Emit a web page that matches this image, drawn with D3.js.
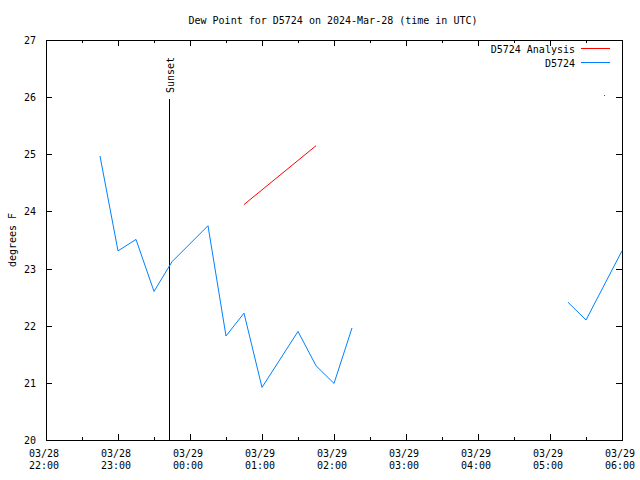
<!DOCTYPE html>
<html>
<head>
<meta charset="utf-8">
<script src="https://cdn.jsdelivr.net/npm/d3@7"></script>
<style>
  html, body { margin: 0; padding: 0; background: #fff; }
  svg { display: block; }
  text { font-family: "DejaVu Sans Mono", "Liberation Mono", monospace; font-size: 10px; fill: #000; }
</style>
</head>
<body>
<svg id="chart" width="640" height="480"></svg>
<script>
// ---- data ----
const titleText = "Dew Point for D5724 on 2024-Mar-28 (time in UTC)";
const yLabel = "degrees F";
const seriesNames = ["D5724 Analysis", "D5724"];
const seriesColors = ["#ff0000", "#0080ff"];

const obsTimes = [
  "2024-03-28T22:45Z", "2024-03-28T23:00Z", "2024-03-28T23:15Z", "2024-03-28T23:30Z",
  "2024-03-28T23:45Z", "2024-03-29T00:15Z", "2024-03-29T00:30Z", "2024-03-29T00:45Z",
  "2024-03-29T01:00Z", "2024-03-29T01:30Z", "2024-03-29T01:45Z", "2024-03-29T02:00Z",
  "2024-03-29T02:15Z", "2024-03-29T02:30Z", "2024-03-29T05:15Z", "2024-03-29T05:30Z",
  "2024-03-29T06:00Z"
];
const obsValues = [
  24.97, 23.31, 23.51, 22.60,
  23.12, 23.75, 21.82, 22.22,
  20.92, 21.90, 21.30, 20.99,
  21.96, null, 22.41, 22.10,
  23.31
];

const anaTimes = ["2024-03-29T00:45Z", "2024-03-29T01:45Z", "2024-03-29T02:00Z", "2024-03-29T05:45Z"];
const anaValues = [24.12, 25.15, null, 26.04];

const sunsetTime = "2024-03-28T23:42:30Z";
const sunsetLabel = "Sunset";

const xDomain = ["2024-03-28T22:00Z", "2024-03-29T06:00Z"];
const yDomain = [20, 27];
const yTicks = [20, 21, 22, 23, 24, 25, 26, 27];

// ---- layout ----
const L = 46, R = 622, T = 40, B = 440;
const svg = d3.select("#chart");

const x = d3.scaleUtc().domain(xDomain.map(d => new Date(d))).range([L, R]);
const y = d3.scaleLinear().domain(yDomain).range([B, T]);

const majorTicks = d3.utcHour.every(1).range(new Date(xDomain[0]), d3.utcMinute.offset(new Date(xDomain[1]), 1));
const minorTicks = d3.utcMinute.every(30).range(new Date(xDomain[0]), new Date(xDomain[1])).filter(d => d.getUTCMinutes() === 30);

// title
svg.append("text").attr("x", 333).attr("y", 24).attr("text-anchor", "middle").text(titleText);

// y label
svg.append("text").attr("transform", "translate(13,240) rotate(-90)")
  .attr("text-anchor", "middle").attr("dominant-baseline", "middle").text(yLabel);

// axes (ticks inward)
function styleAxis(g) {
  g.select(".domain").remove();
  g.selectAll("line").attr("stroke", "#000").attr("shape-rendering", "crispEdges");
  g.selectAll("text").remove();
}
svg.append("g").attr("transform", `translate(0,${B})`)
  .call(d3.axisBottom(x).tickValues(majorTicks).tickSize(-6)).call(styleAxis);
svg.append("g").attr("transform", `translate(0,${B})`)
  .call(d3.axisBottom(x).tickValues(minorTicks).tickSize(-3)).call(styleAxis);
svg.append("g").attr("transform", `translate(0,${T})`)
  .call(d3.axisTop(x).tickValues(majorTicks).tickSize(-6)).call(styleAxis);
svg.append("g").attr("transform", `translate(0,${T})`)
  .call(d3.axisTop(x).tickValues(minorTicks).tickSize(-3)).call(styleAxis);
svg.append("g").attr("transform", `translate(${L},0)`)
  .call(d3.axisLeft(y).tickValues(yTicks).tickSize(-6)).call(styleAxis);
svg.append("g").attr("transform", `translate(${R},0)`)
  .call(d3.axisRight(y).tickValues(yTicks).tickSize(-6)).call(styleAxis);

// y tick labels
svg.append("g").selectAll("text").data(yTicks).join("text")
  .attr("x", 36).attr("y", d => y(d) + 4).attr("text-anchor", "end").text(d => d);

// x tick labels (two lines)
const fmtDate = d3.utcFormat("%m/%d"), fmtTime = d3.utcFormat("%H:%M");
const xl = svg.append("g").selectAll("g").data(majorTicks).join("g")
  .attr("transform", d => `translate(${x(d) - 2},0)`);
xl.append("text").attr("y", 457).attr("text-anchor", "middle").text(d => fmtDate(d));
xl.append("text").attr("y", 469).attr("text-anchor", "middle").text(d => fmtTime(d));

// frame
svg.append("rect").attr("x", L + 0.5).attr("y", T + 0.5)
  .attr("width", R - L).attr("height", B - T)
  .attr("fill", "none").attr("stroke", "#000").attr("shape-rendering", "crispEdges");

// sunset marker
const sx = Math.round(x(new Date(sunsetTime))) + 0.5;
svg.append("line").attr("x1", sx).attr("x2", sx).attr("y1", y(20)).attr("y2", y(25.97))
  .attr("stroke", "#000").attr("shape-rendering", "crispEdges");
svg.append("text").attr("transform", `translate(${sx + 1},93) rotate(-90)`)
  .attr("text-anchor", "start").attr("dominant-baseline", "middle").text(sunsetLabel);

// series
function drawSeries(times, values, color) {
  const pts = times.map((t, i) => ({ t: new Date(t), v: values[i] }));
  const line = d3.line().defined(d => d.v != null).x(d => x(d.t)).y(d => y(d.v));
  svg.append("path").datum(pts).attr("d", line)
    .attr("fill", "none").attr("stroke", color).attr("stroke-width", 1);
  // isolated points (no neighbours) drawn as single dots
  pts.forEach((d, i) => {
    if (d.v == null) return;
    const prev = i > 0 && pts[i - 1].v != null;
    const next = i < pts.length - 1 && pts[i + 1].v != null;
    if (!prev && !next) {
      svg.append("rect").attr("x", Math.round(x(d.t))).attr("y", Math.round(y(d.v)))
        .attr("width", 1).attr("height", 1).attr("fill", color);
    }
  });
}
drawSeries(anaTimes, anaValues, seriesColors[0]);
drawSeries(obsTimes, obsValues, seriesColors[1]);

// legend
const legendRows = [48.5, 62.5];
seriesNames.forEach((name, i) => {
  svg.append("text").attr("x", 575).attr("y", legendRows[i] + 4).attr("text-anchor", "end").text(name);
  svg.append("line").attr("x1", 581).attr("x2", 610).attr("y1", legendRows[i]).attr("y2", legendRows[i])
    .attr("stroke", seriesColors[i]).attr("shape-rendering", "crispEdges");
});
</script>
</body>
</html>
